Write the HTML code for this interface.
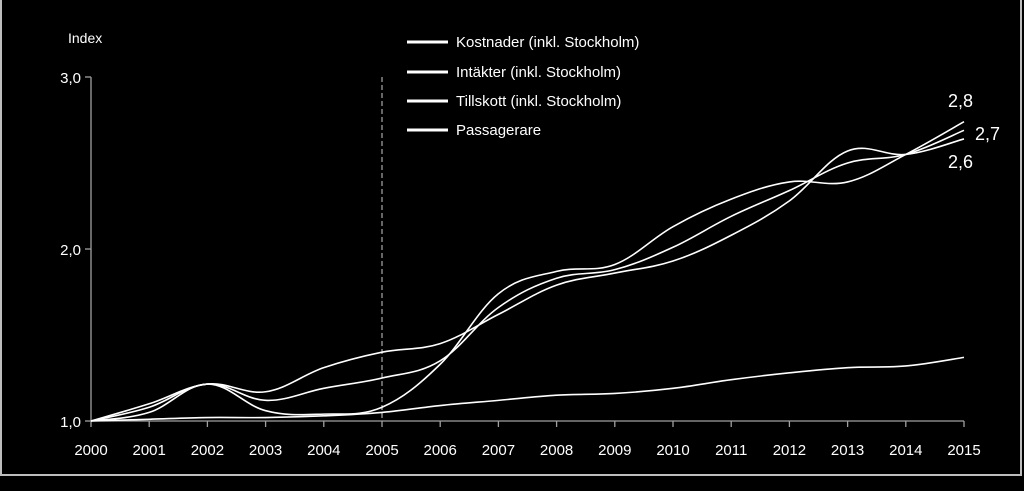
<!DOCTYPE html>
<html><head><meta charset="utf-8"><style>
html,body{margin:0;padding:0;background:#000;}
svg{display:block;font-family:"Liberation Sans",sans-serif;}
</style></head><body>
<svg id="chart" width="1024" height="491" viewBox="0 0 1024 491">
<rect x="1" y="-2" width="1020" height="477" fill="#000" stroke="#bdbdbd" stroke-width="2"/>
<g id="axes"></g>
<g id="series"></g>
<g id="legend"></g>
</svg>
<script>
const years = [2000,2001,2002,2003,2004,2005,2006,2007,2008,2009,2010,2011,2012,2013,2014,2015];
const yTicks = [1.0, 2.0, 3.0];
const yTickLabels = ["1,0","2,0","3,0"];
const seriesNames = ["Kostnader (inkl. Stockholm)","Intäkter (inkl. Stockholm)","Tillskott (inkl. Stockholm)","Passagerare"];
const kostnader = [1.0,1.10,1.215,1.17,1.31,1.40,1.45,1.62,1.79,1.86,1.93,2.08,2.28,2.57,2.55,2.64];
const intakter = [1.0,1.08,1.215,1.12,1.19,1.25,1.35,1.66,1.83,1.88,2.01,2.19,2.34,2.50,2.55,2.69];
const tillskott = [1.0,1.05,1.215,1.06,1.04,1.08,1.33,1.74,1.87,1.91,2.13,2.29,2.39,2.39,2.55,2.74];
const passagerare = [1.0,1.01,1.02,1.02,1.03,1.05,1.09,1.12,1.15,1.16,1.19,1.24,1.28,1.31,1.32,1.37];
const endLabels = ["2,8","2,7","2,6"];

const NS = "http://www.w3.org/2000/svg";
const x0 = 91, x1 = 964, yBase = 421, yTop = 77;
function xs(yr){ return x0 + (yr - years[0]) * (x1 - x0) / (years[years.length-1] - years[0]); }
function ys(v){ return yBase - (v - 1) * (yBase - yTop) / 2; }
function mk(tag, attrs, parent){ const e = document.createElementNS(NS, tag); for (const k in attrs) e.setAttribute(k, attrs[k]); parent.appendChild(e); return e; }

const axes = document.getElementById('axes');
let el = mk('line',{x1:x0,y1:yTop,x2:x0,y2:yBase,stroke:'#a0a0a0','stroke-width':1.3},axes);


el = mk('line',{x1:x0,y1:yBase,x2:x1,y2:yBase,stroke:'#a0a0a0','stroke-width':1.3},axes);


yTicks.forEach((t,i)=>{
  const y = ys(t);
  let tk = mk('line',{x1:x0-6,y1:y,x2:x0,y2:y,stroke:'#a0a0a0','stroke-width':1.3},axes);
  
  
  const tx = mk('text',{x:x0-10,y:y+6,fill:'#fff','font-size':15,'text-anchor':'end'},axes);
  tx.textContent = yTickLabels[i];
  
  
});
years.forEach(yr=>{
  const x = xs(yr);
  let tk = mk('line',{x1:x,y1:yBase,x2:x,y2:yBase+6,stroke:'#a0a0a0','stroke-width':1.3},axes);
  
  
  const tx = mk('text',{x:x,y:yBase+34,fill:'#fff','font-size':15,'text-anchor':'middle'},axes);
  tx.textContent = yr;
  
  
});
el = mk('text',{x:68,y:43,fill:'#fff','font-size':14},axes);
el.textContent = 'Index';


el = mk('line',{x1:xs(2005),y1:yTop,x2:xs(2005),y2:yBase,stroke:'#ccc','stroke-width':1,'stroke-dasharray':'5,3'},axes);



function pathFor(vals){
  const p = vals.map((v,i)=>[xs(years[i]), ys(v)]);
  let d = 'M'+p[0][0]+','+p[0][1];
  const t = 0.18;
  for (let i=0;i<p.length-1;i++){
    const a = p[i-1]||p[i], b=p[i], c=p[i+1], e=p[i+2]||c;
    d += ' C'+(b[0]+(c[0]-a[0])*t)+','+(b[1]+(c[1]-a[1])*t)+' '+(c[0]-(e[0]-b[0])*t)+','+(c[1]-(e[1]-b[1])*t)+' '+c[0]+','+c[1];
  }
  return d;
}
const seriesG = document.getElementById('series');
const allSeries = [kostnader,intakter,tillskott,passagerare];
const sNames = ['line-kostnader','line-intakter','line-tillskott','line-passagerare'];
allSeries.forEach((s,i)=>{
  const pth = mk('path',{d:pathFor(s),fill:'none',stroke:'#fff','stroke-width':1.6},seriesG);
  
  
});
const lblPos = [[948,107],[975,140],[948,168]];
endLabels.forEach((l,i)=>{
  const tx = mk('text',{x:lblPos[i][0],y:lblPos[i][1],fill:'#fff','font-size':18},seriesG);
  tx.textContent = l;
  
  
});

const legend = document.getElementById('legend');
const legY = [42,72,101,130];
seriesNames.forEach((n,i)=>{
  const g = mk('g',{},legend);
  
  
  mk('line',{x1:407,y1:legY[i],x2:448,y2:legY[i],stroke:'#fff','stroke-width':3},g);
  const tx = mk('text',{x:456,y:legY[i]+5,fill:'#fff','font-size':15},g);
  tx.textContent = n;
});
</script>
</body></html>
